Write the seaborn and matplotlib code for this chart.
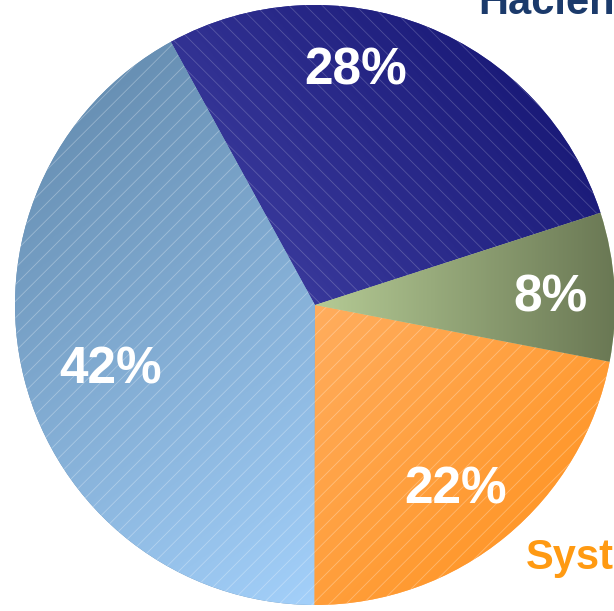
import numpy as np
import matplotlib
matplotlib.use("Agg")
import matplotlib.pyplot as plt
import seaborn as sns
from matplotlib.colors import LinearSegmentedColormap
from matplotlib.patches import Wedge

# ---- data ----
shares = [28, 42, 22, 8]
start_colors = ["#38389a", "#6890b4", "#ffad5e", "#b5cb95"]
end_colors = ["#1b1b79", "#a3d0fa", "#ff982c", "#6a7854"]
grad_angles = [40, -55, -45, 0]
hatches = ["\\\\", "//", "//", ""]
hatch_alpha = [0.2, 0.3, 0.3, 0.0]
label_xy = [(0.135, 0.78), (-0.683, -0.217), (0.467, -0.617), (0.785, 0.023)]
side_labels = ["Hacienda", "Systems"]
side_colors = ["#1b3a6b", "#ff9a12"]
side_xy = [(0.543, 0.97), (0.703, -0.88)]

sns.set_theme(style="white")
plt.rcParams['font.family'] = ['Liberation Sans', 'DejaVu Sans']
plt.rcParams['hatch.linewidth'] = 0.6

fig = plt.figure(figsize=(6.14, 6.11), dpi=100)
ax = fig.add_axes([0, 0, 1, 1])

wedges, texts, autotexts = ax.pie(
    shares, colors=start_colors, startangle=17.9, counterclock=True,
    autopct=lambda p: f"{p:.0f}%", pctdistance=0.78,
    wedgeprops=dict(linewidth=0),
    textprops=dict(color="white", fontsize=37, fontweight="bold"))

xlim = (-1.05, 614 / 300 - 1.05)
ylim = (-(611 - 305) / 300, 305 / 300)

gx = np.linspace(xlim[0], xlim[1], 500)
gy = np.linspace(ylim[0], ylim[1], 500)
X, Y = np.meshgrid(gx, gy)

for i, w in enumerate(wedges):
    verts = ax.transData.inverted().transform(w.get_verts())
    a = np.deg2rad(grad_angles[i])
    d = np.array([np.cos(a), np.sin(a)])
    vp = verts @ d
    proj = X * d[0] + Y * d[1]
    t = np.clip((proj - vp.min()) / (vp.max() - vp.min()), 0, 1)
    cmap = LinearSegmentedColormap.from_list(f"g{i}", [start_colors[i], end_colors[i]])
    im = ax.imshow(t, cmap=cmap, vmin=0, vmax=1, origin="lower",
                   extent=[xlim[0], xlim[1], ylim[0], ylim[1]],
                   interpolation="bilinear", zorder=1.5)
    im.set_clip_path(w)
    if hatches[i]:
        ov = Wedge(w.center, w.r, w.theta1, w.theta2, facecolor="none",
                   edgecolor=(1, 1, 1, hatch_alpha[i]), linewidth=0,
                   hatch=hatches[i], zorder=2)
        ax.add_patch(ov)

for t_, xy in zip(autotexts, label_xy):
    t_.set_position(xy)
    t_.set_zorder(5)

for s, c, xy in zip(side_labels, side_colors, side_xy):
    ax.text(xy[0], xy[1], s, color=c, fontsize=30, fontweight="bold",
            ha="left", va="baseline", zorder=5)

ax.set_xlim(*xlim)
ax.set_ylim(*ylim)
ax.set_aspect("equal")
ax.axis("off")

fig.savefig("out.png", dpi=100)
